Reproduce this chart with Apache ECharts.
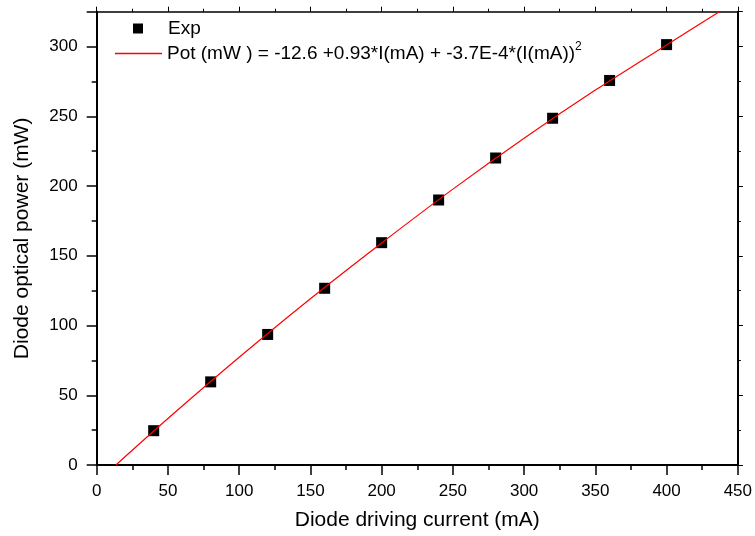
<!DOCTYPE html>
<html><head><meta charset="utf-8">
<script src="https://cdn.jsdelivr.net/npm/echarts@6/dist/echarts.min.js"></script>
<style>html,body{margin:0;padding:0;background:#fff}#c{width:755px;height:536px}</style>
</head><body><div id="c"></div>
<script>
// Experimental points
const expCurrent = [40, 80, 120, 160, 200, 240, 280, 320, 360, 400];
const expPower   = [24.6, 59.6, 93.6, 126.7, 159.4, 190.0, 220.1, 248.6, 275.7, 301.4];
// Fit curve
const fitCurrent = [13.5, 50, 100, 150, 200, 250, 300, 350, 400, 437];
const fitPower   = [0, 33.3, 77.2, 119.2, 159.2, 197.8, 234.3, 268.8, 301.2, 325];
const xTicks = [0, 50, 100, 150, 200, 250, 300, 350, 400, 450];
const yTicks = [0, 50, 100, 150, 200, 250, 300];

const FONT = 'Liberation Sans, Arial, sans-serif';
const chart = echarts.init(document.getElementById('c'), null, {renderer: 'canvas'});
const axisCommon = {
  min: 0, interval: 50,
  axisLine: {show: true, onZero: false, lineStyle: {color: '#000', width: 2}},
  axisTick: {show: true, inside: false, length: 10, lineStyle: {color: '#000', width: 1.5}},
  minorTick: {show: true, splitNumber: 2, length: 5, lineStyle: {color: '#000', width: 1.5}},
  splitLine: {show: false}
};
chart.setOption({
  animation: false,
  backgroundColor: '#fff',
  grid: {left: 96.7, right: 13.3, top: 11.7, bottom: 69.3, containLabel: false},
  legend: [
    {data: [{name: 'Exp', icon: 'rect'}], left: 133, top: 19, padding: 0,
     itemWidth: 10, itemHeight: 10,
     textStyle: {fontFamily: FONT, fontSize: 19, color: '#000', padding: [0, 0, 0, 20]}},
    {data: [{name: 'Pot', icon: 'rect'}], left: 115, top: 41, padding: 0,
     itemWidth: 47, itemHeight: 1.3,
     formatter: () => 'Pot (mW ) = -12.6 +0.93*I(mA) + -3.7E-4*(I(mA)){sup|2}',
     textStyle: {fontFamily: FONT, fontSize: 19, color: '#000',
       rich: {sup: {fontFamily: FONT, fontSize: 12, color: '#000', padding: [0, 0, 13, 0]}}}}
  ],
  xAxis: [
    Object.assign({}, axisCommon, {
      type: 'value', max: 450, position: 'bottom',
      name: 'Diode driving current (mA)', nameLocation: 'middle', nameGap: 45,
      nameTextStyle: {fontFamily: FONT, fontSize: 21, color: '#000'},
      axisLabel: {fontFamily: FONT, fontSize: 17, color: '#000', margin: 18,
        customValues: xTicks}
    }),
    Object.assign({}, axisCommon, {
      type: 'value', max: 450, position: 'top',
      axisLine: {show: true, onZero: false, lineStyle: {color: '#000', width: 1.5}},
      axisTick: {show: true, inside: false, length: 5, lineStyle: {color: '#000', width: 1}},
      minorTick: {show: true, splitNumber: 2, length: 3, lineStyle: {color: '#000', width: 1}},
      axisLabel: {show: false}
    })
  ],
  yAxis: [
    Object.assign({}, axisCommon, {
      type: 'value', max: 325, position: 'left',
      name: 'Diode optical power (mW)', nameLocation: 'middle', nameGap: 64,
      nameTextStyle: {fontFamily: FONT, fontSize: 21, color: '#000'},
      axisLabel: {fontFamily: FONT, fontSize: 17, color: '#000', margin: 19,
        customValues: yTicks}
    }),
    Object.assign({}, axisCommon, {
      type: 'value', max: 325, position: 'right',
      axisTick: {show: true, inside: false, length: 5, lineStyle: {color: '#000', width: 1}},
      minorTick: {show: true, splitNumber: 2, length: 3, lineStyle: {color: '#000', width: 1}},
      axisLabel: {show: false}
    })
  ],
  series: [
    {name: 'Pot', type: 'line', xAxisIndex: 0, yAxisIndex: 0,
     data: fitCurrent.map((x, i) => [x, fitPower[i]]),
     smooth: 0.3, showSymbol: false, symbol: 'none', clip: true,
     lineStyle: {color: '#ff0000', width: 1.2}, itemStyle: {color: '#ff0000'}, z: 3},
    {name: 'Exp', type: 'scatter', xAxisIndex: 0, yAxisIndex: 0,
     data: expCurrent.map((x, i) => [x, expPower[i]]),
     symbol: 'rect', symbolSize: 11,
     itemStyle: {color: '#000', opacity: 1}, z: 2}
  ]
});
</script></body></html>
